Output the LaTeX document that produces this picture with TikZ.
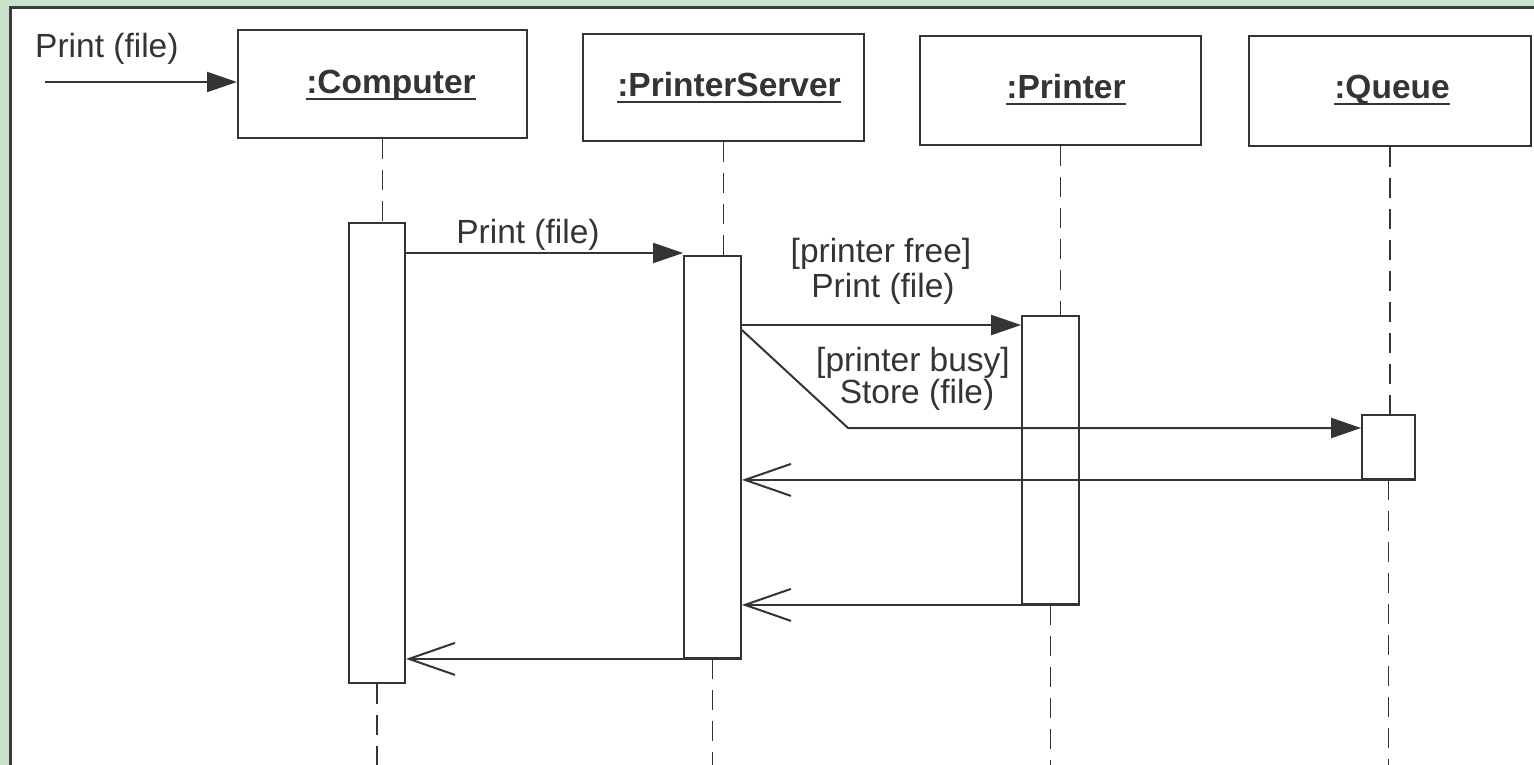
\documentclass[tikz,border=0pt]{standalone}
\usepackage{fontspec}
\setmainfont{Liberation Sans}
\usetikzlibrary{arrows.meta,fit}
\definecolor{bggreen}{RGB}{201,226,201}
\definecolor{ink}{RGB}{52,52,52}
\definecolor{frameink}{RGB}{60,60,60}
\tikzset{
  lbl/.style={font=\fontsize{33.5}{40}\selectfont, text=ink, inner sep=0pt},
  objname/.style={font=\fontsize{33.5}{40}\selectfont\bfseries, text=ink, inner sep=0pt},
  objbox/.style={draw=ink, line width=2pt, fill=white, inner sep=0pt},
  actbox/.style={draw=ink, line width=1.8pt, fill=white, inner sep=0pt},
  lifeline/.style={draw=ink, line width=1.6pt, dash pattern=on 20pt off 11pt},
  msg/.style={draw=ink, line width=2pt, -{Triangle[length=30pt,width=20pt]}},
  ret/.style={draw=ink, line width=2pt, -{Straight Barb[length=46pt,width=32pt,line width=2pt]}},
  uline/.style={draw=ink, line width=2.2pt}
}
\begin{document}
\begin{tikzpicture}[x=1pt,y=-1pt]
\useasboundingbox (0,0) rectangle (1534,765);
% frame
\fill[bggreen] (0,0) rectangle (1534,765);
\fill[white] (10,8) rectangle (1534,765);
\draw[frameink, line width=3pt] (10,766) -- (10,8) -- (1535,8);

% object boxes
\node[objbox, fit={(238,30) (527,138)}] (comp) {};
\node[objbox, fit={(583,34) (864,141)}] (ps) {};
\node[objbox, fit={(920,36) (1201,145)}] (prt) {};
\node[objbox, fit={(1249,36) (1531,146)}] (que) {};

\node[objname, anchor=base] (compt) at (391,94) {:Computer};
\node[objname, anchor=base] (pst) at (729,97) {:PrinterServer};
\node[objname, anchor=base] (prtt) at (1066,99) {:Printer};
\node[objname, anchor=base] (quet) at (1392,99) {:Queue};
\foreach \t in {compt,pst,prtt,quet}{
  \draw[uline] ([yshift=-5pt]\t.base west) -- ([yshift=-5pt]\t.base east);
}

% activation box tops (for lifelines)
\coordinate (compactN) at (377,223);
\coordinate (psactN) at (712.5,256);
\coordinate (prtactN) at (1050.5,316);
\coordinate (qactN) at (1388.5,415);

% lifelines
\draw[lifeline] (comp.south) -- (comp.south |- compactN);
\draw[lifeline] (ps.south) -- (ps.south |- psactN);
\draw[lifeline] (prt.south) -- (prt.south |- prtactN);
\draw[lifeline] (que.south) -- (que.south |- qactN);

\node[actbox, fit={(349,223) (405,683)}] (compact) {};
\node[actbox, fit={(684,256) (741,658)}] (psact) {};
\node[actbox, fit={(1022,316) (1079,604)}] (prtact) {};
\node[actbox, fit={(1362,415) (1415,479)}] (qact) {};

\draw[lifeline] (compact.south) -- (compact.south |- 0,765);
\draw[lifeline] (psact.south) -- (psact.south |- 0,765);
\draw[lifeline] (prtact.south) -- (prtact.south |- 0,765);
\draw[lifeline] (qact.south) -- (qact.south |- 0,765);

% found message
\coordinate (start) at (45,82);
\node[lbl, anchor=base west] (l0) at (35,58) {Print (file)};
\draw[msg] (start) -- (start -| comp.west);

% Print (file) to server
\node[lbl, anchor=base] (l1) at (528,243) {Print (file)};
\draw[msg] (compact.east |- 0,253) -- (psact.west |- 0,253);

% printer free
\node[lbl, anchor=base] (l2a) at (881,262) {[printer free]};
\node[lbl, anchor=base] (l2b) at (883,297) {Print (file)};
\draw[msg] (psact.east |- 0,325) -- (prtact.west |- 0,325);

% printer busy
\node[lbl, anchor=base] (l3a) at (913,371) {[printer busy]};
\node[lbl, anchor=base] (l3b) at (917,403) {Store (file)};
\coordinate (bend) at (848,428);
\draw[msg] (psact.east |- 0,330) -- (bend) -- (qact.west |- bend);

% returns
\draw[ret] (qact.south east) -- (psact.east |- qact.south);
\draw[ret] (prtact.south east) -- (psact.east |- prtact.south);
\draw[ret] (psact.south east) -- (compact.east |- psact.south);
\end{tikzpicture}
\end{document}
